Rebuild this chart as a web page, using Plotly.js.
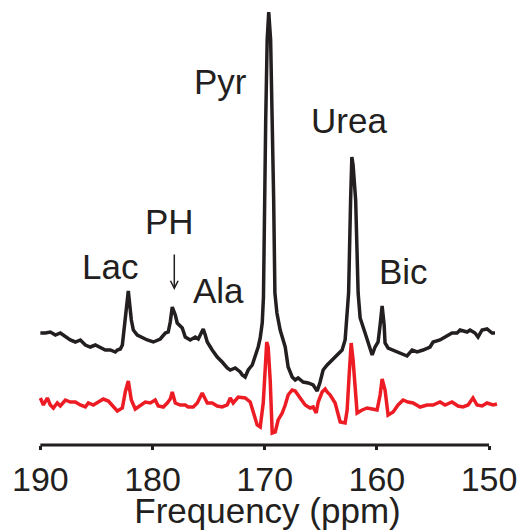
<!DOCTYPE html>
<html>
<head>
<meta charset="utf-8">
<script src="https://cdn.plot.ly/plotly-3.0.1.min.js"></script>
<style>html,body{margin:0;padding:0;background:#fff;}#chart{width:529px;height:530px;}</style>
</head>
<body>
<div id="chart"></div>
<script>
// Frequency axis (ppm) and intensities (arbitrary units)
const spectrumPpm = [190.00,189.55,189.11,188.66,188.22,187.77,187.33,186.88,186.44,185.99,185.55,185.10,184.65,184.21,183.76,183.32,183.14,182.87,182.69,182.43,182.16,181.89,181.71,181.36,180.82,180.47,179.93,179.31,178.86,178.60,178.42,178.24,177.97,177.80,177.35,177.08,176.64,176.19,175.92,175.75,175.48,175.30,175.12,174.68,174.23,173.79,173.34,173.07,172.63,172.18,172.00,171.74,171.47,171.11,170.85,170.58,170.40,170.22,170.11,170.03,169.91,169.78,169.64,169.47,169.31,169.20,169.09,168.91,168.62,168.17,167.91,167.55,167.28,167.02,166.57,166.12,165.68,165.32,165.06,164.79,164.43,163.99,163.54,163.10,162.83,162.65,162.52,162.34,162.23,162.12,161.89,161.67,161.49,161.05,160.60,160.42,160.16,159.89,159.71,159.53,159.35,159.27,159.00,158.55,157.93,157.31,156.86,156.41,155.88,155.26,154.99,154.37,153.92,153.30,152.85,152.58,151.96,151.69,151.25,150.98,150.62,150.18,149.73,149.47];
const spectrumIntensity = [112,112,113,110,112,108,105,103,105,100,98,100,97,95,95,93,95,96,100,125,154,125,115,110,107,105,103,106,112,113,123,138,130,122,117,108,105,108,106,110,116,110,103,95,88,83,77,75,77,73,70,68,75,80,88,98,107,122,148,245,325,405,433,405,325,245,152,132,115,98,78,68,65,67,63,62,60,54,63,75,80,85,90,95,105,130,152,245,288,280,245,152,127,112,98,90,98,103,120,139,120,102,97,95,92,89,95,93,95,98,103,105,108,112,112,115,113,115,112,108,115,116,112,112];

const residualPpm = [190.00,189.73,189.38,189.11,188.84,188.49,188.22,187.77,187.33,186.88,186.44,185.99,185.72,185.28,184.83,184.39,183.94,183.50,183.14,182.69,182.43,182.16,181.89,181.54,181.09,180.65,180.20,179.76,179.49,179.04,178.69,178.42,178.24,177.97,177.53,177.08,176.82,176.37,176.01,175.57,175.12,174.68,174.23,173.79,173.34,173.07,172.81,172.36,171.74,171.29,171.02,170.67,170.40,170.13,169.96,169.82,169.69,169.51,169.33,169.06,168.80,168.44,168.17,167.91,167.55,167.28,166.84,166.39,165.95,165.68,165.41,165.23,164.88,164.61,164.43,164.16,163.72,163.27,162.83,162.65,162.47,162.29,162.12,161.94,161.76,161.31,160.87,160.42,159.98,159.71,159.53,159.27,159.00,158.55,158.11,157.66,157.22,156.77,156.15,155.52,154.99,154.37,153.92,153.30,152.76,152.32,151.87,151.43,151.07,150.62,150.18,149.64,149.29];
const residualIntensity = [47,40,47,40,37,42,39,45,43,43,40,38,42,40,43,46,44,38,34,37,53,64,45,36,40,43,42,45,39,38,42,46,53,42,40,40,38,38,42,52,42,42,39,38,40,47,42,48,47,43,33,20,18,42,75,103,98,65,12,13,25,32,40,50,55,54,47,40,37,38,32,43,53,56,53,50,42,23,22,35,70,102,85,60,32,35,37,36,35,50,66,55,30,33,40,45,43,42,38,40,40,43,40,43,39,38,40,47,40,39,42,40,41];

const tickValues = [190,180,170,160,150];
const tickLabels = ['190','180','170','160','150'];

const peakLabels = ['Pyr','Urea','Lac','PH','Ala','Bic'];
const peakLabelPpm = [173.96,162.47,183.81,178.46,174.14,157.66];
const peakLabelHeight = [364,325,179,224,155,174];

const arrowPpm = 178.06;
const arrowTail = 192;
const arrowHead = 155;

const ink = '#231f20';
const red = '#ed1c24';
const fontFam = '"Liberation Sans", Arial, Helvetica, sans-serif';

const traces = [
  {x: spectrumPpm, y: spectrumIntensity, type: 'scatter', mode: 'lines',
   line: {color: ink, width: 3.5}, hoverinfo: 'skip', cliponaxis: false},
  {x: residualPpm, y: residualIntensity, type: 'scatter', mode: 'lines',
   line: {color: red, width: 3.5}, hoverinfo: 'skip', cliponaxis: false}
];

const annotations = peakLabels.map((t, i) => ({
  text: t, x: peakLabelPpm[i], y: peakLabelHeight[i], xref: 'x', yref: 'y',
  showarrow: false, xanchor: 'center', yanchor: 'middle',
  font: {family: fontFam, size: 35, color: ink}
}));
annotations.push({
  text: '', x: arrowPpm, y: arrowHead, ax: arrowPpm, ay: arrowTail,
  xref: 'x', yref: 'y', axref: 'x', ayref: 'y',
  showarrow: true, arrowhead: 5, arrowsize: 1, arrowwidth: 1.5, arrowcolor: ink
});

const layout = {
  width: 529, height: 530,
  margin: {l: 37, r: 31, t: 0, b: 85},
  paper_bgcolor: '#ffffff', plot_bgcolor: '#ffffff',
  showlegend: false,
  font: {family: fontFam, color: ink},
  xaxis: {
    range: [190.3, 149.2], showgrid: false, zeroline: false, showline: false,
    tickmode: 'array', tickvals: tickValues, ticktext: tickLabels,
    ticks: 'outside', ticklen: 4, tickwidth: 3, tickcolor: ink,
    tickfont: {family: fontFam, size: 34, color: ink},
    title: {text: 'Frequency (ppm)', font: {family: fontFam, size: 35, color: ink}, standoff: 3}
  },
  yaxis: {range: [0, 445], visible: false, fixedrange: true},
  shapes: [{type: 'line', xref: 'x', yref: 'paper', x0: 190, x1: 150, y0: 0, y1: 0,
            line: {color: ink, width: 3}}],
  annotations: annotations
};

Plotly.newPlot('chart', traces, layout, {staticPlot: true, displayModeBar: false});
</script>
</body>
</html>
